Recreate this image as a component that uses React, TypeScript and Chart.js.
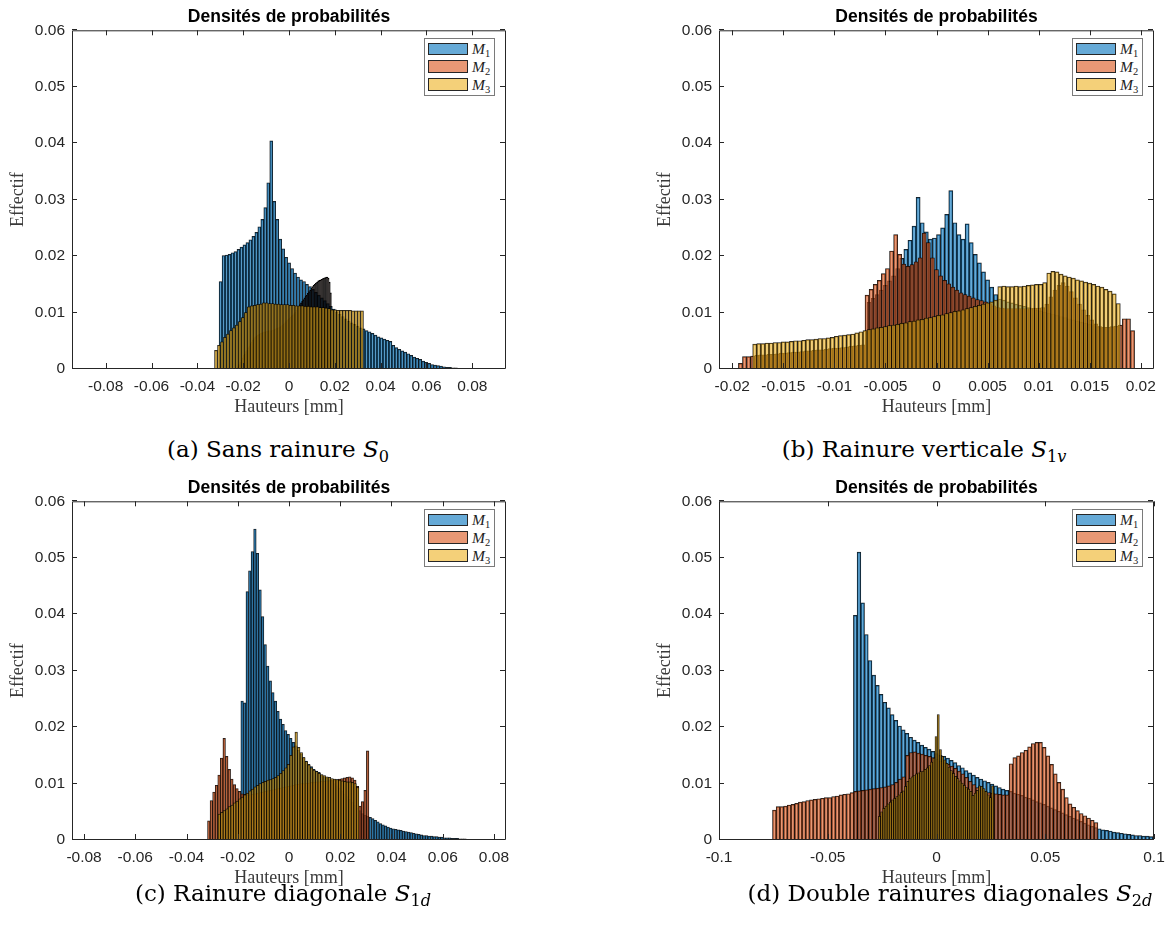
import React, { useEffect, useRef } from 'react';
import { Chart, registerables } from 'chart.js';

Chart.register(...registerables);

// ---------------- shared axis data ----------------
const SERIES_NUMBERS = ['1', '2', '3'];
const Y_MIN = 0;
const Y_MAX = 0.06;
const Y_TICKS = [0, 0.01, 0.02, 0.03, 0.04, 0.05, 0.06];
const Y_TICK_LABELS = ['0', '0.01', '0.02', '0.03', '0.04', '0.05', '0.06'];
const PLOT_TITLE = 'Densités de probabilités';
const X_TITLE = 'Hauteurs [mm]';
const Y_TITLE = 'Effectif';

// ---------------- panel (a) Sans rainure ----------------
const A_X_MIN = -0.0947;
const A_X_MAX = 0.0947;
const A_X_TICKS = [-0.08, -0.06, -0.04, -0.02, 0, 0.02, 0.04, 0.06, 0.08];
const A_X_TICK_LABELS = ['-0.08', '-0.06', '-0.04', '-0.02', '0', '0.02', '0.04', '0.06', '0.08'];
const A_M1_START = -0.0305;
const A_M1_BIN = 0.0013;
const A_M1 = [
  0.0155, 0.0201, 0.0202, 0.0203, 0.0206, 0.0208, 0.0212, 0.0216, 0.0220, 0.0224,
  0.0229, 0.0235, 0.0242, 0.0252, 0.0265, 0.0286, 0.0330, 0.0404, 0.0297, 0.0265,
  0.0230, 0.0213, 0.0198, 0.0188, 0.0178, 0.0170, 0.0163, 0.0158, 0.0155, 0.0150,
  0.0146, 0.0141, 0.0136, 0.0131, 0.0126, 0.0121, 0.0116, 0.0111, 0.0106, 0.0101,
  0.0097, 0.0093, 0.0089, 0.0085, 0.0082, 0.0079, 0.0076, 0.0073, 0.0071, 0.0068,
  0.0066, 0.0063, 0.0060, 0.0057, 0.0055, 0.0053, 0.0051, 0.0049, 0.0042, 0.0038,
  0.0035, 0.0032, 0.0030, 0.0027, 0.0024, 0.0021, 0.0019, 0.0017, 0.0014, 0.0012,
  0.0010, 0.0008, 0.0007, 0.0006, 0.0005, 0.0004, 0.0003, 0.0003, 0.0002, 0.0002,
  0.0001, 0.0001, 0.0001, 0.0001,
];
const A_M2_START = -0.0225;
const A_M2_BIN = 0.0005;
const A_M2 = [
  0.0004, 0.0008, 0.0012, 0.0016, 0.0020, 0.0024, 0.0027, 0.0031, 0.0034, 0.0038,
  0.0041, 0.0045, 0.0048, 0.0051, 0.0054, 0.0056, 0.0058, 0.0060, 0.0061, 0.0062,
  0.0063, 0.0064, 0.0065, 0.0066, 0.0066, 0.0067, 0.0067, 0.0068, 0.0068, 0.0068,
  0.0069, 0.0069, 0.0070, 0.0071, 0.0072, 0.0073, 0.0074, 0.0075, 0.0077, 0.0078,
  0.0080, 0.0082, 0.0084, 0.0086, 0.0088, 0.0090, 0.0092, 0.0094, 0.0096, 0.0098,
  0.0101, 0.0104, 0.0108, 0.0111, 0.0114, 0.0117, 0.0120, 0.0123, 0.0126, 0.0129,
  0.0131, 0.0134, 0.0137, 0.0140, 0.0143, 0.0146, 0.0148, 0.0150, 0.0152, 0.0154,
  0.0156, 0.0157, 0.0158, 0.0159, 0.0160, 0.0161, 0.0162, 0.0163, 0.0163, 0.0161,
  0.0154, 0.0135,
];
const A_M3_START = -0.0325;
const A_M3_BIN = 0.0013;
const A_M3 = [
  0.0033, 0.0042, 0.0048, 0.0056, 0.0062, 0.0068, 0.0073, 0.0078, 0.0084, 0.0091,
  0.0100, 0.0110, 0.0112, 0.0113, 0.0114, 0.0115, 0.0117, 0.0117, 0.0116, 0.0116,
  0.0115, 0.0115, 0.0114, 0.0114, 0.0114, 0.0113, 0.0113, 0.0112, 0.0112, 0.0112,
  0.0111, 0.0111, 0.0110, 0.0110, 0.0110, 0.0109, 0.0109, 0.0108, 0.0107, 0.0105,
  0.0105, 0.0104, 0.0104, 0.0104, 0.0104, 0.0104, 0.0103, 0.0103, 0.0103, 0.0103,
];

// ---------------- panel (b) Rainure verticale ----------------
const B_X_MIN = -0.0213;
const B_X_MAX = 0.0213;
const B_X_TICKS = [-0.02, -0.015, -0.01, -0.005, 0, 0.005, 0.01, 0.015, 0.02];
const B_X_TICK_LABELS = ['-0.02', '-0.015', '-0.01', '-0.005', '0', '0.005', '0.01', '0.015', '0.02'];
const B_M1_START = -0.0068;
const B_M1_BIN = 0.0004;
const B_M1 = [
  0.0118, 0.0125, 0.0132, 0.0140, 0.0148, 0.0156, 0.0165, 0.0178, 0.0196, 0.0212,
  0.0228, 0.0253, 0.0304, 0.0259, 0.0243, 0.0230, 0.0232, 0.0238, 0.0250, 0.0274,
  0.0316, 0.0259, 0.0238, 0.0230, 0.0257, 0.0224, 0.0203, 0.0188, 0.0172, 0.0158,
  0.0145, 0.0132, 0.0124, 0.0122, 0.0119, 0.0117, 0.0115, 0.0113, 0.0111, 0.0109,
  0.0107, 0.0105, 0.0103, 0.0101, 0.0099, 0.0097, 0.0095, 0.0093, 0.0091, 0.0089,
  0.0087, 0.0085, 0.0083, 0.0081, 0.0079, 0.0077, 0.0075, 0.0073,
];
const B_M2_START = -0.0194;
const B_M2_BIN = 0.0004;
const B_M2 = [
  0.0010, 0.0022, 0.0022, 0.0023, 0.0024, 0.0025, 0.0025, 0.0026, 0.0026, 0.0027,
  0.0028, 0.0028, 0.0029, 0.0030, 0.0030, 0.0031, 0.0032, 0.0032, 0.0033, 0.0034,
  0.0034, 0.0035, 0.0036, 0.0037, 0.0037, 0.0038, 0.0039, 0.0040, 0.0041, 0.0042,
  0.0043, 0.0131, 0.0141, 0.0150, 0.0157, 0.0169, 0.0178, 0.0209, 0.0238, 0.0203,
  0.0186, 0.0182, 0.0185, 0.0190, 0.0197, 0.0241, 0.0224, 0.0197, 0.0176, 0.0165,
  0.0157, 0.0151, 0.0145, 0.0140, 0.0135, 0.0132, 0.0129, 0.0126, 0.0123, 0.0121,
  0.0119, 0.0116, 0.0112, 0.0109, 0.0108, 0.0107, 0.0107, 0.0107, 0.0107, 0.0107,
  0.0107, 0.0107, 0.0108, 0.0108, 0.0109, 0.0115, 0.0128, 0.0140, 0.0148, 0.0153,
  0.0147, 0.0137, 0.0126, 0.0115, 0.0105, 0.0095, 0.0087, 0.0080, 0.0075, 0.0074,
  0.0074, 0.0075, 0.0076, 0.0078, 0.0089, 0.0089, 0.0068,
];
const B_M3_START = -0.018;
const B_M3_BIN = 0.0004;
const B_M3 = [
  0.0044, 0.0045, 0.0045, 0.0046, 0.0046, 0.0047, 0.0047, 0.0048, 0.0048, 0.0049,
  0.0050, 0.0050, 0.0051, 0.0052, 0.0052, 0.0053, 0.0054, 0.0054, 0.0055, 0.0056,
  0.0058, 0.0059, 0.0060, 0.0061, 0.0062, 0.0064, 0.0066, 0.0068, 0.0070, 0.0071,
  0.0073, 0.0074, 0.0075, 0.0077, 0.0078, 0.0079, 0.0081, 0.0082, 0.0084, 0.0085,
  0.0087, 0.0088, 0.0090, 0.0091, 0.0093, 0.0095, 0.0096, 0.0098, 0.0100, 0.0102,
  0.0103, 0.0105, 0.0107, 0.0109, 0.0111, 0.0113, 0.0115, 0.0117, 0.0119, 0.0122,
  0.0146, 0.0147, 0.0146, 0.0146, 0.0147, 0.0146, 0.0147, 0.0148, 0.0149, 0.0150,
  0.0150, 0.0153, 0.0170, 0.0173, 0.0172, 0.0168, 0.0165, 0.0163, 0.0161, 0.0158,
  0.0156, 0.0154, 0.0152, 0.0150, 0.0147, 0.0145, 0.0141, 0.0138, 0.0133, 0.0116,
];

// ---------------- panel (c) Rainure diagonale ----------------
const C_X_MIN = -0.0847;
const C_X_MAX = 0.0847;
const C_X_TICKS = [-0.08, -0.06, -0.04, -0.02, 0, 0.02, 0.04, 0.06, 0.08];
const C_X_TICK_LABELS = ['-0.08', '-0.06', '-0.04', '-0.02', '0', '0.02', '0.04', '0.06', '0.08'];
const C_M1_START = -0.0188;
const C_M1_BIN = 0.001;
const C_M1 = [
  0.0246, 0.0243, 0.0440, 0.0477, 0.0511, 0.0551, 0.0508, 0.0443, 0.0396, 0.0346,
  0.0308, 0.0282, 0.0261, 0.0246, 0.0228, 0.0214, 0.0205, 0.0194, 0.0187, 0.0180,
  0.0173, 0.0167, 0.0159, 0.0152, 0.0146, 0.0140, 0.0134, 0.0130, 0.0125, 0.0122,
  0.0120, 0.0115, 0.0112, 0.0110, 0.0107, 0.0104, 0.0100, 0.0096, 0.0092, 0.0087,
  0.0082, 0.0077, 0.0072, 0.0067, 0.0062, 0.0057, 0.0052, 0.0047, 0.0044, 0.0042,
  0.0040, 0.0038, 0.0035, 0.0032, 0.0029, 0.0027, 0.0025, 0.0023, 0.0021, 0.0020,
  0.0019, 0.0018, 0.0017, 0.0016, 0.0015, 0.0014, 0.0013, 0.0012, 0.0011, 0.0010,
  0.0009, 0.0008, 0.0008, 0.0007, 0.0007, 0.0006, 0.0006, 0.0005, 0.0005, 0.0004,
  0.0004, 0.0004, 0.0003, 0.0003, 0.0003, 0.0002, 0.0002, 0.0002, 0.0001, 0.0001,
  0.0001, 0.0001,
];
const C_M2_START = -0.0318;
const C_M2_BIN = 0.001;
const C_M2 = [
  0.0034, 0.0070, 0.0085, 0.0097, 0.0115, 0.0145, 0.0180, 0.0148, 0.0125, 0.0108,
  0.0098, 0.0091, 0.0086, 0.0082, 0.0081, 0.0080, 0.0080, 0.0081, 0.0082, 0.0083,
  0.0084, 0.0085, 0.0086, 0.0087, 0.0088, 0.0089, 0.0090, 0.0091, 0.0092, 0.0093,
  0.0094, 0.0095, 0.0096, 0.0097, 0.0098, 0.0099, 0.0100, 0.0100, 0.0101, 0.0101,
  0.0102, 0.0102, 0.0103, 0.0103, 0.0104, 0.0104, 0.0105, 0.0105, 0.0106, 0.0106,
  0.0107, 0.0108, 0.0109, 0.0110, 0.0111, 0.0112, 0.0110, 0.0106, 0.0095, 0.0060,
  0.0068, 0.0088, 0.0158,
];
const C_M3_START = -0.0277;
const C_M3_BIN = 0.001;
const C_M3 = [
  0.0046, 0.0049, 0.0052, 0.0055, 0.0059, 0.0062, 0.0066, 0.0069, 0.0073, 0.0076,
  0.0080, 0.0083, 0.0087, 0.0090, 0.0094, 0.0097, 0.0100, 0.0102, 0.0104, 0.0106,
  0.0107, 0.0109, 0.0111, 0.0114, 0.0118, 0.0123, 0.0128, 0.0134, 0.0150, 0.0165,
  0.0191, 0.0164, 0.0155, 0.0146, 0.0139, 0.0133, 0.0128, 0.0124, 0.0121, 0.0118,
  0.0116, 0.0114, 0.0112, 0.0111, 0.0109, 0.0108, 0.0107, 0.0106, 0.0105, 0.0104,
  0.0103, 0.0103, 0.0102, 0.0100, 0.0093,
];

// ---------------- panel (d) Double rainures diagonales ----------------
const D_X_MIN = -0.1;
const D_X_MAX = 0.1;
const D_X_TICKS = [-0.1, -0.05, 0, 0.05, 0.1];
const D_X_TICK_LABELS = ['-0.1', '-0.05', '0', '0.05', '0.1'];
const D_M1_START = -0.0382;
const D_M1_BIN = 0.0017;
const D_M1 = [
  0.0398, 0.0510, 0.0420, 0.0364, 0.0318, 0.0292, 0.0274, 0.0258, 0.0244, 0.0234,
  0.0222, 0.0212, 0.0202, 0.0195, 0.0189, 0.0182, 0.0177, 0.0173, 0.0168, 0.0164,
  0.0161, 0.0157, 0.0153, 0.0150, 0.0148, 0.0145, 0.0141, 0.0137, 0.0132, 0.0128,
  0.0123, 0.0119, 0.0115, 0.0111, 0.0108, 0.0105, 0.0102, 0.0099, 0.0096, 0.0093,
  0.0090, 0.0088, 0.0086, 0.0083, 0.0081, 0.0079, 0.0076, 0.0074, 0.0071, 0.0068,
  0.0066, 0.0063, 0.0060, 0.0057, 0.0054, 0.0051, 0.0048, 0.0045, 0.0042, 0.0039,
  0.0036, 0.0033, 0.0030, 0.0027, 0.0024, 0.0022, 0.0020, 0.0018, 0.0017, 0.0016,
  0.0014, 0.0013, 0.0012, 0.0011, 0.0010, 0.0009, 0.0008, 0.0008, 0.0007, 0.0007,
  0.0006, 0.0006,
];
const D_M2_START = -0.0754;
const D_M2_BIN = 0.0017;
const D_M2 = [
  0.0053, 0.0059, 0.0059, 0.0060, 0.0062, 0.0063, 0.0065, 0.0067, 0.0068, 0.0070,
  0.0071, 0.0072, 0.0073, 0.0074, 0.0075, 0.0075, 0.0077, 0.0078, 0.0080, 0.0081,
  0.0082, 0.0084, 0.0086, 0.0087, 0.0088, 0.0089, 0.0090, 0.0091, 0.0092, 0.0093,
  0.0094, 0.0096, 0.0098, 0.0102, 0.0108, 0.0112, 0.0150, 0.0155, 0.0156, 0.0154,
  0.0152, 0.0150, 0.0148, 0.0146, 0.0143, 0.0140, 0.0137, 0.0134, 0.0131, 0.0127,
  0.0122, 0.0117, 0.0111, 0.0104, 0.0098, 0.0093, 0.0089, 0.0086, 0.0084, 0.0083,
  0.0082, 0.0081, 0.0080, 0.0080, 0.0135, 0.0146, 0.0149, 0.0155, 0.0159, 0.0165,
  0.0171, 0.0173, 0.0173, 0.0164, 0.0149, 0.0134, 0.0117, 0.0102, 0.0090, 0.0075,
  0.0064, 0.0058, 0.0052, 0.0047, 0.0043, 0.0039, 0.0035, 0.0031,
];
const D_M3_START = -0.0267;
const D_M3_BIN = 0.001;
const D_M3 = [
  0.0042, 0.0050, 0.0056, 0.0060, 0.0064, 0.0067, 0.0071, 0.0074, 0.0077, 0.0080,
  0.0084, 0.0087, 0.0095, 0.0104, 0.0109, 0.0112, 0.0114, 0.0117, 0.0119, 0.0121,
  0.0122, 0.0125, 0.0128, 0.0132, 0.0138, 0.0145, 0.0183, 0.0222, 0.0160, 0.0148,
  0.0142, 0.0136, 0.0129, 0.0123, 0.0118, 0.0113, 0.0109, 0.0105, 0.0101, 0.0097,
  0.0093, 0.0090, 0.0086, 0.0079, 0.0083, 0.0088, 0.0096, 0.0095, 0.0091, 0.0086,
  0.0080, 0.0075, 0.0096,
];

// ---------------- styles ----------------
const FACE = ['rgba(0,114,189,0.6)', 'rgba(217,83,25,0.6)', 'rgba(237,177,32,0.6)'];
const DENSE_FACE = 'rgb(10,4,2)';
const DENSE_EDGE = 'rgb(0,0,0)';
const SWATCH = ['rgb(102,170,215)', 'rgb(232,152,117)', 'rgb(244,208,121)'];
const EDGE = 'rgba(0,0,0,0.9)';
const AXIS_COLOR = '#262626';
const TICK_FONT = { family: "'Liberation Sans', Arial, sans-serif", size: 15.5 };
const LABEL_FONT = { family: "'Liberation Serif', 'Times New Roman', serif", size: 18 };
const LABEL_COLOR = '#3a3a3a';
const SERIF = "'Liberation Serif', 'Times New Roman', serif";
const CAPTION_FONT = "'DejaVu Serif', serif";

const YW = 65; // y-axis box width
const PT = 15; // top padding
const PR = 30; // right padding
const XH = 49; // x-axis box height

const framePlugin = {
  id: 'matlabFrame',
  afterDatasetsDraw(chart: any) {
    const { ctx, chartArea } = chart;
    const { left, right, top, bottom } = chartArea;
    const xs = chart.scales.x0;
    const ys = chart.scales.y;
    ctx.save();
    ctx.strokeStyle = AXIS_COLOR;
    ctx.lineWidth = 1;
    ctx.beginPath();
    ctx.rect(left + 0.5, top + 0.5, right - left - 1, bottom - top - 1);
    const TL = 5;
    xs.ticks.forEach((t: any) => {
      const px = Math.round(xs.getPixelForValue(t.value)) + 0.5;
      ctx.moveTo(px, bottom - 1);
      ctx.lineTo(px, bottom - 1 - TL);
      ctx.moveTo(px, top);
      ctx.lineTo(px, top + TL);
    });
    ys.ticks.forEach((t: any) => {
      const py = Math.round(ys.getPixelForValue(t.value)) - 0.5;
      ctx.moveTo(left, py);
      ctx.lineTo(left + TL, py);
      ctx.moveTo(right - 1, py);
      ctx.lineTo(right - 1 - TL, py);
    });
    ctx.stroke();
    ctx.restore();
  },
};

type Series = { start: number; bin: number; values: number[]; dense?: boolean };
type PanelDef = {
  L: number; T: number; W: number; H: number;
  xMin: number; xMax: number; xTicks: number[]; xTickLabels: string[];
  series: Series[];
  caption: React.ReactNode; capX: number; capY: number;
};

function PanelChart({ p }: { p: PanelDef }) {
  const ref = useRef<HTMLCanvasElement>(null);
  const cw = YW + p.W + PR;
  const ch = PT + p.H + XH;
  useEffect(() => {
    const canvas = ref.current;
    if (!canvas) return;
    const datasets = p.series.map((s, k) => ({
      label: 'M' + SERIES_NUMBERS[k],
      xAxisID: 'x' + k,
      yAxisID: 'y',
      data: s.values.map((v, i) => ({ x: s.start + (i + 0.5) * s.bin, y: v })),
      backgroundColor: s.dense ? DENSE_FACE : FACE[k],
      borderColor: s.dense ? DENSE_EDGE : EDGE,
      borderWidth: 0.75,
      borderSkipped: 'start',
      barPercentage: 1,
      categoryPercentage: 1,
      grouped: false,
      clip: 0,
      order: 3 - k,
    }));
    const hidden = () => ({ type: 'linear', display: false, min: p.xMin, max: p.xMax, offset: false });
    const chart = new Chart(canvas, {
      type: 'bar',
      data: { datasets } as any,
      options: {
        animation: false,
        responsive: false,
        devicePixelRatio: 1,
        layout: { padding: { left: 0, top: PT, right: PR, bottom: 0 } },
        plugins: { legend: { display: false }, tooltip: { enabled: false }, title: { display: false } },
        scales: {
          x0: {
            type: 'linear', position: 'bottom', min: p.xMin, max: p.xMax, offset: false,
            grid: { display: false, drawTicks: false, tickLength: 0 }, border: { display: false },
            afterBuildTicks: (sc: any) => { sc.ticks = p.xTicks.map((v) => ({ value: v })); },
            afterFit: (sc: any) => { sc.height = XH; },
            ticks: {
              autoSkip: false, maxRotation: 0, minRotation: 0, padding: 8.5,
              color: AXIS_COLOR, font: TICK_FONT,
              callback: (_v: any, i: number) => p.xTickLabels[i],
            },
            title: { display: true, text: X_TITLE, color: LABEL_COLOR, font: LABEL_FONT, padding: { top: 0, bottom: 0 } },
          },
          x1: hidden(),
          x2: hidden(),
          y: {
            type: 'linear', position: 'left', min: Y_MIN, max: Y_MAX,
            grid: { display: false, drawTicks: false, tickLength: 0 }, border: { display: false },
            afterBuildTicks: (sc: any) => { sc.ticks = Y_TICKS.map((v) => ({ value: v })); },
            afterFit: (sc: any) => { sc.width = YW; },
            ticks: {
              padding: 7, color: AXIS_COLOR, font: TICK_FONT,
              callback: (_v: any, i: number) => Y_TICK_LABELS[i],
            },
            title: { display: true, text: Y_TITLE, color: LABEL_COLOR, font: LABEL_FONT, padding: { top: 0, bottom: 0 } },
          },
        } as any,
      },
      plugins: [framePlugin],
    } as any);
    return () => chart.destroy();
  }, []);
  return (
    <canvas
      ref={ref}
      width={cw}
      height={ch}
      style={{ position: 'absolute', left: p.L - YW, top: p.T - PT, width: cw, height: ch }}
    />
  );
}

function Legend({ p }: { p: PanelDef }) {
  const boxW = 71;
  const boxH = 58;
  return (
    <div
      style={{
        position: 'absolute', left: p.L + p.W - 11 - boxW, top: p.T + 9, width: boxW, height: boxH,
        border: '1px solid #7a7a7a', background: '#fff', boxSizing: 'border-box',
      }}
    >
      {SERIES_NUMBERS.map((n, k) => (
        <React.Fragment key={n}>
          <div
            style={{
              position: 'absolute', left: 3, top: 3.5 + k * 17.8, width: 40, height: 12.5,
              background: SWATCH[k], border: '1px solid #262626', boxSizing: 'border-box',
            }}
          />
          <div
            style={{
              position: 'absolute', left: 47, top: k * 17.8 + 1, height: 17, lineHeight: '17px',
              fontFamily: SERIF, fontSize: 15.5, color: '#222', whiteSpace: 'nowrap',
            }}
          >
            <i>M</i>
            <span style={{ fontSize: 10.5, position: 'relative', top: 3 }}>{n}</span>
          </div>
        </React.Fragment>
      ))}
    </div>
  );
}

function Sub({ children }: { children: React.ReactNode }) {
  return <span style={{ fontSize: '0.7em', position: 'relative', top: '0.28em' }}>{children}</span>;
}

const PANELS: PanelDef[] = [
  {
    L: 72, T: 29, W: 434, H: 340, xMin: A_X_MIN, xMax: A_X_MAX, xTicks: A_X_TICKS, xTickLabels: A_X_TICK_LABELS,
    series: [
      { start: A_M1_START, bin: A_M1_BIN, values: A_M1 },
      { start: A_M2_START, bin: A_M2_BIN, values: A_M2, dense: true },
      { start: A_M3_START, bin: A_M3_BIN, values: A_M3 },
    ],
    caption: (<>(a) Sans rainure <i>S</i><Sub>0</Sub></>), capX: 278, capY: 449,
  },
  {
    L: 719, T: 29, W: 435, H: 340, xMin: B_X_MIN, xMax: B_X_MAX, xTicks: B_X_TICKS, xTickLabels: B_X_TICK_LABELS,
    series: [
      { start: B_M1_START, bin: B_M1_BIN, values: B_M1 },
      { start: B_M2_START, bin: B_M2_BIN, values: B_M2 },
      { start: B_M3_START, bin: B_M3_BIN, values: B_M3 },
    ],
    caption: (<>(b) Rainure verticale <i>S</i><Sub>1<i>v</i></Sub></>), capX: 924, capY: 449,
  },
  {
    L: 72, T: 500, W: 434, H: 340, xMin: C_X_MIN, xMax: C_X_MAX, xTicks: C_X_TICKS, xTickLabels: C_X_TICK_LABELS,
    series: [
      { start: C_M1_START, bin: C_M1_BIN, values: C_M1 },
      { start: C_M2_START, bin: C_M2_BIN, values: C_M2 },
      { start: C_M3_START, bin: C_M3_BIN, values: C_M3 },
    ],
    caption: (<>(c) Rainure diagonale <i>S</i><Sub>1<i>d</i></Sub></>), capX: 283, capY: 893,
  },
  {
    L: 719, T: 500, W: 435, H: 340, xMin: D_X_MIN, xMax: D_X_MAX, xTicks: D_X_TICKS, xTickLabels: D_X_TICK_LABELS,
    series: [
      { start: D_M1_START, bin: D_M1_BIN, values: D_M1 },
      { start: D_M2_START, bin: D_M2_BIN, values: D_M2 },
      { start: D_M3_START, bin: D_M3_BIN, values: D_M3 },
    ],
    caption: (<>(d) Double rainures diagonales <i>S</i><Sub>2<i>d</i></Sub></>), capX: 950, capY: 893,
  },
];

export default function App() {
  return (
    <div
      style={{
        position: 'absolute', left: 0, top: 0, width: 1169, height: 937, overflow: 'hidden', background: '#fff',
      }}
    >
      {PANELS.map((p, idx) => (
        <React.Fragment key={idx}>
          <PanelChart p={p} />
          <div
            style={{
              position: 'absolute', left: p.L, top: p.T - 23, width: p.W, height: 20, lineHeight: '20px',
              textAlign: 'center', fontFamily: "'Liberation Sans', Arial, sans-serif", fontWeight: 'bold',
              fontSize: 17.5, color: '#000', whiteSpace: 'nowrap',
            }}
          >
            {PLOT_TITLE}
          </div>
          <Legend p={p} />
          <div
            style={{
              position: 'absolute', left: p.capX - 300, top: p.capY - 16, width: 600, height: 32, lineHeight: '32px',
              textAlign: 'center', fontFamily: CAPTION_FONT, fontSize: 23, color: '#000', whiteSpace: 'nowrap',
            }}
          >
            {p.caption}
          </div>
        </React.Fragment>
      ))}
    </div>
  );
}
